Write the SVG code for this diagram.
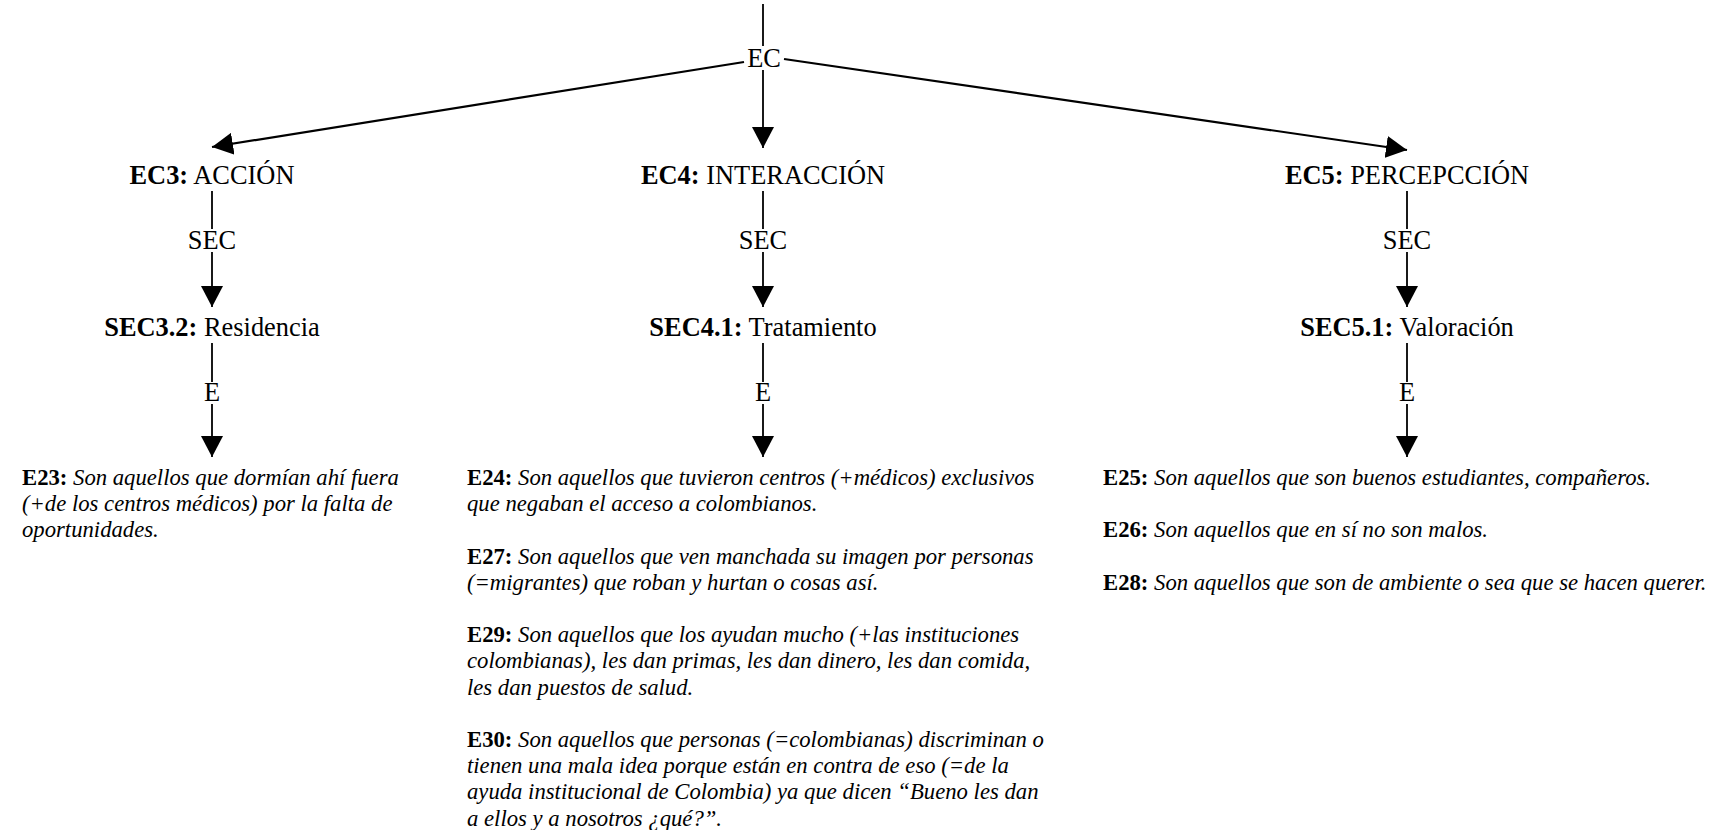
<svg xmlns="http://www.w3.org/2000/svg" width="1726" height="830" viewBox="0 0 1726 830">
<style>
  text { font-family: "Liberation Serif", "Times New Roman", serif; fill: #000; }
  .lbl { font-size: 26.4px; text-anchor: middle; }
  .b { font-weight: bold; font-style: normal; }
  .q { font-size: 22.7px; }
  .i { font-style: italic; }
  .ln { stroke: #000; stroke-width: 1.8; fill: none; }
  .dg { stroke-width: 2.2; }
  .arr { marker-end: url(#ah); }
</style>
<defs>
  <marker id="ah" markerUnits="userSpaceOnUse" viewBox="0 0 21 22" refX="21" refY="11" markerWidth="21" markerHeight="22" orient="auto">
    <path d="M0,0 L21,11 L0,22 z" fill="#000"/>
  </marker>
</defs>
<rect width="1726" height="830" fill="#fff"/>

<g id="connectors">
  <line class="ln" x1="763" y1="4" x2="763" y2="46"/>
  <line class="ln dg arr" x1="744" y1="62" x2="212" y2="147"/>
  <line class="ln arr" x1="763" y1="70" x2="763" y2="148"/>
  <line class="ln dg arr" x1="784" y1="59" x2="1407" y2="150"/>

  <line class="ln" x1="212" y1="191" x2="212" y2="229"/>
  <line class="ln arr" x1="212" y1="252" x2="212" y2="307"/>
  <line class="ln" x1="212" y1="343" x2="212" y2="382"/>
  <line class="ln arr" x1="212" y1="404" x2="212" y2="457"/>

  <line class="ln" x1="763" y1="191" x2="763" y2="229"/>
  <line class="ln arr" x1="763" y1="252" x2="763" y2="307"/>
  <line class="ln" x1="763" y1="343" x2="763" y2="382"/>
  <line class="ln arr" x1="763" y1="404" x2="763" y2="457"/>

  <line class="ln" x1="1407" y1="191" x2="1407" y2="229"/>
  <line class="ln arr" x1="1407" y1="252" x2="1407" y2="307"/>
  <line class="ln" x1="1407" y1="343" x2="1407" y2="382"/>
  <line class="ln arr" x1="1407" y1="404" x2="1407" y2="457"/>

  <text class="lbl" x="212" y="249">SEC</text>
  <text class="lbl" x="763" y="249">SEC</text>
  <text class="lbl" x="1407" y="249">SEC</text>
  <text class="lbl" x="212" y="401">E</text>
  <text class="lbl" x="763" y="401">E</text>
  <text class="lbl" x="1407" y="401">E</text>
</g>

<g id="ec"><text class="lbl" x="764" y="67">EC</text></g>

<g id="ec3"><text class="lbl" x="212" y="184"><tspan class="b">EC3:</tspan> ACCIÓN</text></g>
<g id="ec4"><text class="lbl" x="763" y="184"><tspan class="b">EC4:</tspan> INTERACCIÓN</text></g>
<g id="ec5"><text class="lbl" x="1407" y="184"><tspan class="b">EC5:</tspan> PERCEPCCIÓN</text></g>

<g id="sec32"><text class="lbl" x="212" y="336"><tspan class="b">SEC3.2:</tspan> Residencia</text></g>
<g id="sec41"><text class="lbl" x="763" y="336"><tspan class="b">SEC4.1:</tspan> Tratamiento</text></g>
<g id="sec51"><text class="lbl" x="1407" y="336"><tspan class="b">SEC5.1:</tspan> Valoración</text></g>

<g id="e23">
  <text class="q i" x="22" y="485"><tspan class="b">E23:</tspan> Son aquellos que dormían ahí fuera</text>
  <text class="q i" x="22" y="511.2">(+de los centros médicos) por la falta de</text>
  <text class="q i" x="22" y="537.4">oportunidades.</text>
</g>

<g id="e24">
  <text class="q i" x="467" y="485"><tspan class="b">E24:</tspan> Son aquellos que tuvieron centros (+médicos) exclusivos</text>
  <text class="q i" x="467" y="511.2">que negaban el acceso a colombianos.</text>
</g>
<g id="e27">
  <text class="q i" x="467" y="563.6"><tspan class="b">E27:</tspan> Son aquellos que ven manchada su imagen por personas</text>
  <text class="q i" x="467" y="589.8">(=migrantes) que roban y hurtan o cosas así.</text>
</g>
<g id="e29">
  <text class="q i" x="467" y="642.2"><tspan class="b">E29:</tspan> Son aquellos que los ayudan mucho (+las instituciones</text>
  <text class="q i" x="467" y="668.4">colombianas), les dan primas, les dan dinero, les dan comida,</text>
  <text class="q i" x="467" y="694.6">les dan puestos de salud.</text>
</g>
<g id="e30">
  <text class="q i" x="467" y="747"><tspan class="b">E30:</tspan> Son aquellos que personas (=colombianas) discriminan o</text>
  <text class="q i" x="467" y="773.2">tienen una mala idea porque están en contra de eso (=de la</text>
  <text class="q i" x="467" y="799.4">ayuda institucional de Colombia) ya que dicen “Bueno les dan</text>
  <text class="q i" x="467" y="825.6">a ellos y a nosotros ¿qué?”.</text>
</g>

<g id="e25"><text class="q i" x="1103" y="485"><tspan class="b">E25:</tspan> Son aquellos que son buenos estudiantes, compañeros.</text></g>
<g id="e26"><text class="q i" x="1103" y="537.4"><tspan class="b">E26:</tspan> Son aquellos que en sí no son malos.</text></g>
<g id="e28"><text class="q i" x="1103" y="589.8"><tspan class="b">E28:</tspan> Son aquellos que son de ambiente o sea que se hacen querer.</text></g>
</svg>
